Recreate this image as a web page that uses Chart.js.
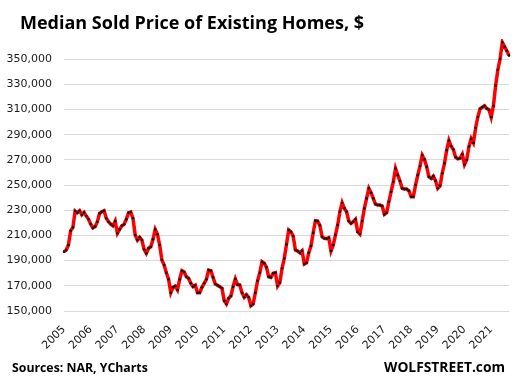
<!DOCTYPE html>
<html><head><meta charset="utf-8">
<script src="https://cdn.jsdelivr.net/npm/chart.js@4.4.0/dist/chart.umd.min.js"></script>
<style>html,body{margin:0;padding:0;background:#fff}</style>
</head><body>
<canvas id="c" width="520" height="385"></canvas>
<script>
// ---- data (monthly median sold price, $) ----
const years = [2005,2006,2007,2008,2009,2010,2011,2012,2013,2014,2015,2016,2017,2018,2019,2020,2021];
const monthNames = ['Jan','Feb','Mar','Apr','May','Jun','Jul','Aug','Sep','Oct','Nov','Dec'];
const p2005 = [197100,198400,202400,213700,216400,229400,228000,229600,226400,228300,225400,223000];
const p2006 = [219000,216000,217000,220900,227500,228800,229600,223600,220900,219000,217700,221400];
const p2007 = [211700,214800,217700,218800,222800,228000,228600,223600,210300,206300,208500,206300];
const p2008 = [199000,195800,199800,201000,206900,214800,210900,202400,190500,186500,180400,175200];
const p2009 = [164500,168800,169800,166700,175200,182000,181000,177200,176000,172000,169300,170400];
const p2010 = [164500,164500,168800,172000,175200,182500,182000,176700,171400,170400,169300,168000];
const p2011 = [158200,155600,160100,161900,169300,175400,170900,170600,164500,160900,162900,160900];
const p2012 = [154200,155600,164500,174000,180400,189100,187900,184700,177200,176700,179900,180400];
const p2013 = [169800,172500,183900,191800,202900,214300,212900,209500,198400,197600,196300,197900];
const p2014 = [187300,188300,196300,201600,212100,221700,221400,218000,209000,207700,207400,208200];
const p2015 = [197600,202400,210300,218300,228800,236000,231500,228800,221400,219600,220900,222800];
const p2016 = [212900,211100,221400,231500,239400,247400,243900,239400,234900,234100,234100,233300];
const p2017 = [226700,228000,236700,244700,252600,263200,257900,253200,247400,246800,246800,245500];
const p2018 = [240700,240700,250000,257900,265100,273800,270400,264500,256600,255300,257100,253400];
const p2019 = [247500,249400,259400,267300,277700,285400,280800,278200,272100,270900,271300,274500];
const p2020 = [266300,270100,280600,286800,283500,295300,304100,310600,311800,313000,310800,309800];
const p2021 = [303900,313000,329100,341600,350300,363300,359900,356700,352800];
const yTickValues = [150000,170000,190000,210000,230000,250000,270000,290000,310000,330000,350000];
const titleText = 'Median Sold Price of Existing Homes, $';
const sourceText = 'Sources: NAR, YCharts';
const brandText = 'WOLFSTREET.com';

const series = [p2005,p2006,p2007,p2008,p2009,p2010,p2011,p2012,p2013,p2014,p2015,p2016,p2017,p2018,p2019,p2020,p2021];
const values = [];
const labels = [];
series.forEach((arr, yi) => arr.forEach((v, mi) => { values.push(v); labels.push(monthNames[mi] + ' ' + years[yi]); }));

const textPlugin = {
  id: 'texts',
  afterDraw(chart) {
    const ctx = chart.ctx;
    ctx.save();
    ctx.fillStyle = '#000';
    ctx.textBaseline = 'alphabetic';
    ctx.font = 'bold 18px "Open Sans"';
    ctx.textAlign = 'left';
    ctx.fillText(titleText, 20, 29);
    ctx.font = 'bold 12.3px "Open Sans"';
    ctx.fillText(sourceText, 12, 372);
    ctx.font = 'bold 13.8px "Open Sans"';
    ctx.textAlign = 'right';
    ctx.fillText(brandText, 505, 372);
    ctx.restore();
  }
};

new Chart(document.getElementById('c'), {
  type: 'line',
  data: {
    labels: labels,
    datasets: [{
      data: values,
      borderColor: '#ff0000',
      borderWidth: 3.5,
      tension: 0,
      pointRadius: 1.3,
      pointBackgroundColor: '#111',
      pointBorderWidth: 0,
      pointHoverRadius: 0
    }]
  },
  options: {
    responsive: false,
    animation: false,
    devicePixelRatio: 1,
    layout: { padding: { left: 7, right: 11, top: 39, bottom: 0 } },
    plugins: { legend: { display: false }, tooltip: { enabled: false }, title: { display: false } },
    scales: {
      x: {
        afterFit: s => { s.height = 74; },
        grid: { display: false, drawTicks: false },
        border: { display: false },
        ticks: {
          autoSkip: false, maxRotation: 45, minRotation: 45, padding: 12,
          font: { family: 'DejaVu Sans', size: 11 }, color: '#1a1a1a',
          callback: (v, i) => (i % 12 === 0 ? String(years[i / 12]) : null)
        }
      },
      y: {
        min: 150000, max: 366000,
        afterFit: s => { s.width = 57; },
        afterBuildTicks: ax => { ax.ticks = yTickValues.map(v => ({ value: v })); },
        grid: { color: '#d9d9d9', lineWidth: 1, drawTicks: false },
        border: { display: false },
        ticks: {
          padding: 12,
          font: { family: 'DejaVu Sans', size: 11 }, color: '#1a1a1a',
          callback: v => v.toLocaleString('en-US')
        }
      }
    }
  },
  plugins: [textPlugin]
});
</script>
</body></html>
